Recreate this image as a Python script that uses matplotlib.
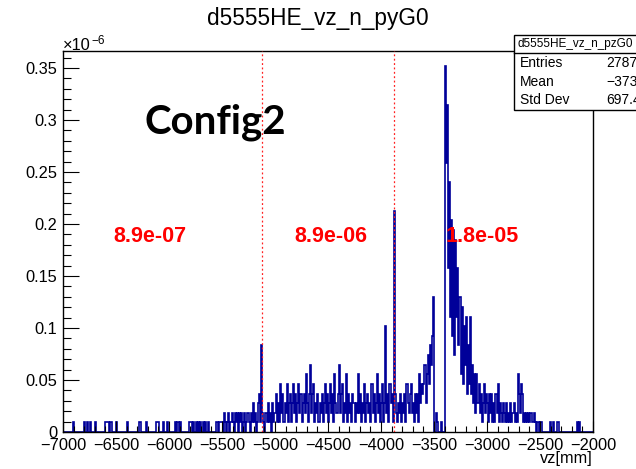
import numpy as np
import matplotlib
matplotlib.use('Agg')
import matplotlib.pyplot as plt
from matplotlib.patches import Rectangle
from matplotlib.lines import Line2D
from matplotlib.ticker import MultipleLocator, FixedLocator, FixedFormatter

plt.rcParams['font.family'] = ['Liberation Sans', 'DejaVu Sans']

# ---------------- data ----------------
title = "d5555HE_vz_n_pyG0"
stats_title = "d5555HE_vz_n_pzG0"
xlabel = "vz[mm]"
x_min, x_max, n_bins = -7000, -2000, 500
entry_weight = 0.00925  # weight of one entry, in units of 1e-6

counts_7000_6510 = [0,0,0,0,0,0,0,0,0,1, 0,0,0,0,0,0,0,0,0,0, 1,0,0,1,0,1,0,0,0,0,
                    1,0,0,0,0,0,0,0,0,0, 1,1,1,0,1,1,0,0,0,0]
counts_6500_6010 = [1,0,0,0,0,0,0,0,0,0, 1,0,0,0,0,0,0,0,0,0, 0,0,1,1,0,0,0,0,1,0,
                    0,0,0,0,0,0,0,0,1,1, 1,0,0,0,1,0,0,0,1,0]
counts_6000_5510 = [0,0,0,0,0,0,1,0,1,0, 1,0,0,0,0,0,0,0,0,1, 1,1,0,1,0,1,0,1,0,1,
                    0,0,1,0,1,0,0,1,0,0, 0,0,0,0,1,1,0,1,1,1]
counts_5500_5010 = [1,0,2,1,0,1,2,0,1,2, 1,0,2,1,2,0,2,1,2,0, 1,2,0,1,2,1,0,2,1,3,
                    1,2,0,1,3,4,1,9,2,1, 0,2,1,3,1,2,0,3,1,2]
counts_5000_4510 = [2,4,1,3,1,5,2,4,1,3, 2,5,1,3,4,1,3,5,2,4, 1,3,5,2,4,1,3,4,2,6,
                    3,1,4,7,2,4,5,1,3,2, 4,1,3,2,4,1,3,5,2,4]
counts_4500_4010 = [1,3,5,2,4,1,6,3,2,4, 7,2,4,5,1,3,2,6,1,4, 2,3,1,4,3,1,3,2,6,2,
                    4,1,3,2,5,1,3,4,2,3, 1,5,2,4,1,3,6,2,4,1]
counts_4000_3510 = [3,5,1,3,11,2,4,1,5,3, 4,1,23,4,2,1,3,2,4,1, 3,2,4,1,5,3,2,4,5,2,
                    3,1,4,2,4,1,6,3,5,4, 5,7,3,6,8,5,9,7,10,14]
counts_3500_3010 = [0,0,2,1,0,0,0,1,0,0, 38,28,34,17,26,12,22,10,21,8,
                    20,12,17,9,14,6,13,5,11,7, 12,4,9,5,12,4,7,3,6,2,
                    6,3,5,2,4,1,3,5,2,4]
counts_3000_2510 = [3,1,4,2,4,1,3,1,4,2, 5,1,3,2,1,3,2,1,3,1, 2,1,3,1,2,3,1,2,1,6,
                    4,2,5,4,1,2,1,2,1,2, 1,2,1,1,2,1,0,1,1,0]
counts_2500_2010 = [1,1,0,0,0,0,0,0,0,1, 0,0,1,0,0,0,1,1,0,0, 0,0,0,0,0,0,0,0,0,0,
                    0,0,0,0,0,1,0,1,0,0, 0,0,0,0,0,0,0,0,0,0]

cut_positions = [-5125, -3875]
region_labels = ["8.9e-07", "8.9e-06", "1.8e-05"]
region_label_x = [-6180, -4470, -3045]
region_label_y = 0.1875
config_label = "Config2"

stats_names = ["Entries", "Mean", "Std Dev"]
stats_values = ["2787", "\u22123739", "697.4"]

xticks = [-7000, -6500, -6000, -5500, -5000, -4500, -4000, -3500, -3000, -2500, -2000]
yticks = [0, 0.05, 0.1, 0.15, 0.2, 0.25, 0.3, 0.35]
ytick_labels = ["0", "0.05", "0.1", "0.15", "0.2", "0.25", "0.3", "0.35"]

# ---------------- figure ----------------
W, H = 636, 469
fig = plt.figure(figsize=(W / 100, H / 100), dpi=100)
L, R, T, B = 63, 593, 51, 432
ax = fig.add_axes([L / W, 1 - B / H, (R - L) / W, (B - T) / H])

counts = np.array(counts_7000_6510 + counts_6500_6010 + counts_6000_5510 + counts_5500_5010 +
                  counts_5000_4510 + counts_4500_4010 + counts_4000_3510 + counts_3500_3010 +
                  counts_3000_2510 + counts_2500_2010, dtype=float)
values = counts * entry_weight
edges = np.linspace(x_min, x_max, n_bins + 1)

ax.stairs(values, edges, color='#000099', linewidth=1.2, baseline=0)

ax.set_xlim(x_min, x_max)
ax.set_ylim(0, 0.3663)

for xc in cut_positions:
    ax.axvline(xc, color='#ff2020', linewidth=0.9, linestyle=(0, (1.5, 2.0)), zorder=3)

for lab, xl in zip(region_labels, region_label_x):
    ax.text(xl, region_label_y, lab, color='#ff0000', fontsize=15.5, fontweight='bold',
            ha='center', va='center', zorder=4)

ax.text(-5560, 0.298, config_label, fontsize=29, fontweight='bold', family=['Lato', 'DejaVu Sans'],
        ha='center', va='center', color='black', zorder=4)

# axes style (ROOT-like)
for s in ax.spines.values():
    s.set_linewidth(1.0)
    s.set_color('black')
ax.xaxis.set_major_locator(FixedLocator(xticks))
ax.xaxis.set_minor_locator(MultipleLocator(100))
ax.yaxis.set_major_locator(FixedLocator(yticks))
ax.yaxis.set_major_formatter(FixedFormatter(ytick_labels))
ax.yaxis.set_minor_locator(MultipleLocator(0.01))
ax.tick_params(axis='x', which='major', direction='in', length=8, width=0.8, labelsize=11.8, pad=4,
               top=False)
ax.tick_params(axis='x', which='minor', direction='in', length=4, width=0.8, top=False)
ax.tick_params(axis='y', which='major', direction='in', length=11.5, width=0.8, labelsize=11.8, pad=4,
               right=False)
ax.tick_params(axis='y', which='minor', direction='in', length=5.8, width=0.8, right=False)

# labels
fig.text(318 / W, 1 - 18 / H, title, fontsize=16.3, ha='center', va='center')
fig.text(R / W, 1 - 458 / H, xlabel, fontsize=11.8, ha='right', va='center')
fig.text(63 / W, 1 - 46 / H, "\u00d710", fontsize=11.8, ha='left', va='center')
fig.text(91 / W, 1 - 41 / H, "\u22126", fontsize=8.5, ha='left', va='center')

# stats box
bx0, by0, by1 = 514, 35, 110
fig.patches.append(Rectangle((bx0 / W, 1 - by1 / H), (W + 30 - bx0) / W, (by1 - by0) / H,
                             transform=fig.transFigure, facecolor='white', edgecolor='black',
                             linewidth=1.0, zorder=5))
fig.lines.append(Line2D([bx0 / W, 1.05], [1 - 53 / H, 1 - 53 / H], transform=fig.transFigure,
                        color='black', linewidth=1.0, zorder=6))
fig.text(517 / W, 1 - 44 / H, stats_title, fontsize=8.5, ha='left', va='center', zorder=7)
for i, (nm, vl) in enumerate(zip(stats_names, stats_values)):
    yy = 63 + 18.7 * i
    fig.text(520 / W, 1 - yy / H, nm, fontsize=10, ha='left', va='center', zorder=7)
    fig.text(606 / W, 1 - yy / H, vl, fontsize=10, ha='left', va='center', zorder=7)

fig.savefig('out.png', dpi=100)
